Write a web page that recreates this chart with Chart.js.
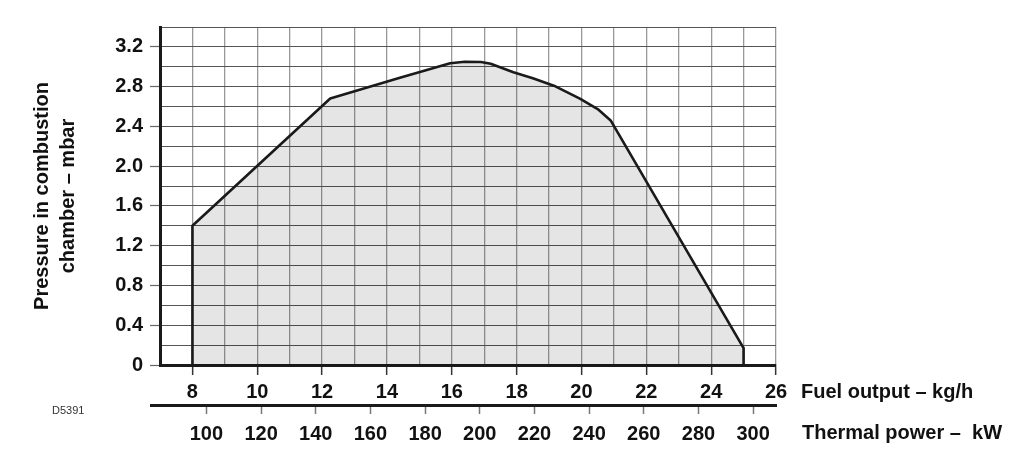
<!DOCTYPE html>
<html><head><meta charset="utf-8">
<script src="https://cdn.jsdelivr.net/npm/chart.js@4/dist/chart.umd.min.js"></script>
<style>html,body{margin:0;padding:0;background:#fff;overflow:hidden;}#wrap{width:1024px;height:468px;}</style>
</head><body><div id="wrap"><canvas id="c" width="1024" height="468"></canvas></div>
<script>
// ---- data ----
const fuelOutput = [8, 8, 12.25, 14.4, 15.95, 16.4, 16.9, 17.2, 17.9, 18.5, 19.15, 19.95, 20.5, 20.9, 25, 25];
const pressure   = [0, 1.4, 2.68, 2.89, 3.035, 3.05, 3.048, 3.03, 2.945, 2.885, 2.81, 2.68, 2.575, 2.46, 0.17, 0];
const fuelTicks = [8, 10, 12, 14, 16, 18, 20, 22, 24, 26];
const pressureTicks = [0, 0.4, 0.8, 1.2, 1.6, 2.0, 2.4, 2.8, 3.2];
const thermalTicks = [100, 120, 140, 160, 180, 200, 220, 240, 260, 280, 300];
const kwPerKg = 11.86;
const fuelRange = [7, 26];
const pressureRange = [0, 3.4];
const yTitle = ['Pressure in combustion', 'chamber \u2013 mbar'];
const fuelTitle = 'Fuel output \u2013 kg/h';
const thermalTitle = 'Thermal power \u2013  kW';
const drawingCode = 'D5391';

const FONT = '"Liberation Sans", Arial, sans-serif';
const isMajor = (v, list) => list.some(t => Math.abs(t - v) < 1e-6);

const decor = {
  id: 'decor',
  afterDraw(chart) {
    const { ctx, scales: { x, x2, y } } = chart;
    ctx.save();
    ctx.strokeStyle = '#1a1a1a'; ctx.lineWidth = 3;
    const yy = Math.round(x2.top) + 0.5;
    ctx.beginPath(); ctx.moveTo(y.right - 10, yy); ctx.lineTo(x2.left + 20, yy); ctx.stroke();
    ctx.font = 'bold 20px ' + FONT;
    ctx.fillStyle = '#111'; ctx.textBaseline = 'middle'; ctx.textAlign = 'left';
    ctx.fillText(fuelTitle, x.right + 25, x.top + 27);
    ctx.fillText(thermalTitle, x.right + 26, x2.top + 28);
    ctx.font = '11px ' + FONT;
    ctx.fillStyle = '#333';
    ctx.fillText(drawingCode, 52, x2.top + 6);
    ctx.restore();
  }
};

new Chart(document.getElementById('c'), {
  type: 'scatter',
  data: {
    datasets: [{
      data: fuelOutput.map((f, i) => ({ x: f, y: pressure[i] })),
      showLine: true,
      borderColor: '#1a1a1a',
      borderWidth: 2.6,
      backgroundColor: 'rgba(0,0,0,0.1)',
      fill: 'origin',
      pointRadius: 0,
      tension: 0,
      borderJoinStyle: 'round'
    }]
  },
  options: {
    responsive: false,
    animation: false,
    devicePixelRatio: 1,
    layout: { padding: { left: 0, right: 248, top: 27, bottom: 0 } },
    plugins: { legend: { display: false }, tooltip: { enabled: false } },
    scales: {
      x: {
        type: 'linear', position: 'bottom', min: fuelRange[0], max: fuelRange[1],
        afterFit: s => { s.height = 40; },
        ticks: {
          stepSize: 1, autoSkip: false, maxRotation: 0, padding: 5,
          color: '#111', font: { family: FONT, size: 20, weight: 'bold' },
          callback: v => isMajor(v, fuelTicks) ? String(v) : ''
        },
        grid: {
          color: '#999', lineWidth: 1.3, tickLength: 10, tickWidth: 1.5,
          tickColor: c => isMajor(c.tick.value, fuelTicks) ? '#333' : 'rgba(0,0,0,0)'
        },
        border: { display: true, color: '#1a1a1a', width: 3 }
      },
      x2: {
        type: 'linear', position: 'bottom', min: fuelRange[0] * kwPerKg, max: fuelRange[1] * kwPerKg,
        afterFit: s => { s.height = 63; },
        afterBuildTicks: s => { s.ticks = thermalTicks.map(v => ({ value: v })); },
        ticks: {
          autoSkip: false, maxRotation: 0, padding: 8,
          color: '#111', font: { family: FONT, size: 20, weight: 'bold' },
          callback: v => String(v)
        },
        grid: { drawOnChartArea: false, tickLength: 9, tickWidth: 1.5, tickColor: '#777' },
        border: { display: true, color: '#1a1a1a', width: 3 }
      },
      y: {
        type: 'linear', position: 'left', min: pressureRange[0], max: pressureRange[1],
        afterFit: s => { s.width = 160; },
        ticks: {
          stepSize: 0.2, autoSkip: false, padding: 7,
          color: '#111', font: { family: FONT, size: 20, weight: 'bold' },
          callback: v => isMajor(v, pressureTicks) ? (Math.abs(v) < 1e-9 ? '0' : v.toFixed(1)) : ''
        },
        grid: {
          color: '#555', lineWidth: 1, tickLength: 10, tickWidth: 1.2,
          tickColor: c => isMajor(c.tick.value, pressureTicks) ? '#666' : 'rgba(0,0,0,0)'
        },
        border: { display: true, color: '#1a1a1a', width: 3 },
        title: {
          display: true, text: yTitle, color: '#111',
          font: { family: FONT, size: 20, weight: 'bold', lineHeight: 1.3 },
          padding: { top: 29, bottom: 0 }
        }
      }
    }
  },
  plugins: [decor]
});
</script>
</body></html>
